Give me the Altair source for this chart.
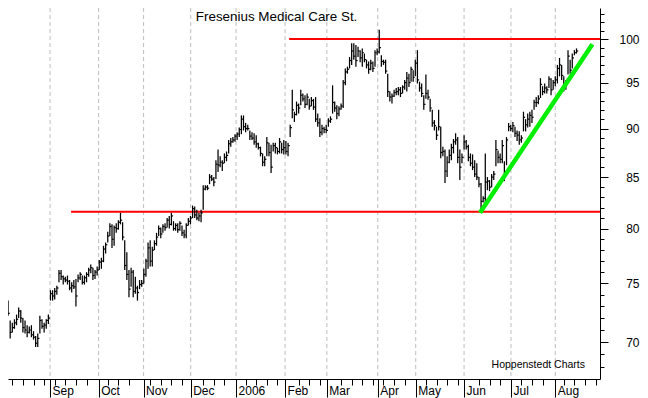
import json
import altair as alt
import pandas as pd

# ---- daily bars (trading-day index 0 = 1 Aug 2005) ----
low = [
    71.1, 71.2, 71.8, 72.2, 70.3, 70.8, 71.1, 71.4, 72.0, 71.6,
    70.8, 70.7, 70.4, 70.7, 70.4, 70.2, 69.6, 69.6, 70.7, 71.1,
    70.8, 71.1, 71.5, 73.5, 73.5, 73.6, 74.0, 75.1, 75.3, 74.9,
    75.1, 74.9, 74.4, 74.2, 74.5, 73.0, 75.1, 75.3, 74.9, 74.9,
    75.1, 75.6, 75.9, 75.3, 75.4, 75.7, 76.2, 76.3, 76.9, 77.7,
    78.7, 79.3, 78.2, 78.4, 79.6, 79.9, 80.4, 78.9, 76.2, 75.3,
    73.8, 74.7, 73.8, 74.1, 73.5, 74.5, 74.7, 75.0, 75.6, 76.3,
    76.5, 76.5, 78.0, 78.4, 79.3, 79.1, 79.6, 79.8, 80.1, 80.0,
    80.3, 79.8, 79.8, 79.6, 79.8, 79.3, 79.1, 79.1, 80.3, 80.4,
    81.0, 81.0, 80.8, 80.7, 80.6, 81.8, 83.7, 83.7, 84.3, 84.6,
    84.1, 84.8, 85.5, 86.0, 85.6, 86.4, 86.6, 87.4, 88.1, 88.5,
    88.6, 88.8, 89.1, 89.4, 89.8, 89.6, 89.8, 88.8, 88.8, 88.3,
    88.0, 87.8, 87.1, 86.1, 86.1, 87.1, 87.1, 85.4, 87.6, 87.4,
    87.3, 87.4, 87.4, 87.3, 87.3, 87.1, 89.1, 91.1, 90.7, 91.4,
    91.6, 92.5, 92.9, 92.2, 92.5, 92.0, 92.4, 92.0, 90.7, 90.2,
    89.1, 89.3, 89.5, 89.5, 90.2, 90.6, 91.6, 91.8, 91.0, 91.3,
    92.0, 92.2, 94.7, 96.0, 96.6, 97.0, 97.6, 96.8, 97.9, 97.3,
    96.8, 97.3, 96.6, 96.0, 96.4, 96.2, 96.8, 98.1, 98.3, 96.8,
    97.0, 96.0, 93.4, 92.9, 92.7, 93.4, 93.6, 93.6, 93.4, 93.8,
    94.2, 94.0, 94.5, 95.1, 95.1, 95.7, 94.9, 94.0, 93.4, 92.0,
    93.2, 93.1, 91.8, 90.2, 89.8, 88.8, 89.8, 86.9, 87.1, 84.4,
    85.0, 86.4, 86.7, 87.4, 88.3, 86.4, 84.7, 86.4, 87.8, 87.8,
    86.6, 86.1, 85.7, 85.0, 84.7, 84.0, 81.8, 82.5, 82.5, 83.7,
    83.6, 84.0, 84.7, 86.1, 86.4, 86.4, 86.4, 84.6, 86.2, 89.7,
    89.7, 89.6, 89.1, 88.7, 88.3, 88.5, 89.7, 89.7, 90.1, 90.2,
    90.6, 92.0, 92.3, 92.6, 93.3, 93.6, 93.8, 93.8, 94.4, 93.6,
    94.2, 94.6, 94.9, 95.7, 95.3, 94.0, 94.2, 95.9, 96.0, 96.6,
    98.1, 98.3,
]
high = [
    72.2, 72.2, 72.9, 73.5, 71.8, 71.6, 71.9, 72.3, 72.9, 72.7,
    72.0, 71.8, 71.4, 71.3, 71.4, 70.9, 70.5, 70.7, 72.2, 71.9,
    71.6, 71.9, 72.3, 74.4, 74.4, 74.6, 74.8, 76.2, 76.2, 75.7,
    75.6, 75.7, 75.3, 75.1, 75.3, 75.4, 75.8, 76.0, 75.7, 75.7,
    76.0, 76.4, 76.7, 76.4, 76.2, 76.5, 77.1, 77.3, 78.4, 78.7,
    79.7, 80.5, 80.4, 80.3, 80.5, 80.8, 81.5, 80.6, 78.9, 77.8,
    76.2, 76.4, 76.2, 75.6, 74.8, 75.3, 75.3, 76.3, 77.2, 78.7,
    78.9, 78.3, 78.9, 79.6, 80.3, 80.1, 80.4, 80.5, 81.0, 81.2,
    81.5, 80.7, 80.5, 80.5, 80.7, 80.3, 79.9, 80.5, 81.0, 81.2,
    82.2, 82.1, 81.8, 81.5, 81.8, 84.2, 84.2, 84.2, 85.3, 85.2,
    85.0, 86.7, 87.8, 87.1, 86.7, 87.4, 87.6, 88.8, 89.0, 89.1,
    89.4, 89.6, 90.1, 91.4, 91.4, 90.6, 90.4, 89.8, 89.6, 89.5,
    89.3, 88.5, 88.1, 87.4, 87.1, 89.1, 88.5, 88.3, 88.5, 88.5,
    88.0, 89.0, 88.5, 88.8, 88.7, 88.5, 90.4, 94.2, 91.8, 92.9,
    92.7, 94.2, 93.8, 93.6, 93.8, 93.2, 93.4, 93.2, 93.4, 91.6,
    91.1, 90.4, 90.2, 90.4, 91.1, 91.3, 94.7, 92.9, 92.5, 92.4,
    92.7, 95.3, 96.6, 96.8, 97.9, 99.5, 99.5, 99.3, 99.1, 98.7,
    98.9, 98.3, 97.6, 97.4, 97.6, 97.4, 98.7, 98.9, 101.1, 98.1,
    97.6, 97.6, 96.0, 94.0, 93.8, 94.2, 94.4, 94.5, 94.5, 94.7,
    95.3, 96.2, 96.0, 96.8, 96.4, 97.6, 98.7, 95.1, 94.9, 93.6,
    95.9, 94.2, 93.2, 92.0, 90.9, 90.2, 92.0, 90.2, 88.1, 87.8,
    87.1, 87.8, 88.4, 88.9, 89.5, 89.1, 87.8, 87.4, 89.3, 88.8,
    88.3, 87.4, 87.3, 86.7, 86.4, 85.0, 84.4, 83.1, 87.4, 85.0,
    84.7, 85.3, 85.6, 88.8, 87.7, 87.4, 88.8, 86.6, 89.1, 90.6,
    90.4, 90.7, 90.2, 89.8, 89.7, 89.3, 91.8, 91.0, 91.6, 91.8,
    92.0, 93.1, 93.4, 93.6, 95.5, 94.6, 94.9, 94.6, 95.7, 95.5,
    95.3, 95.7, 97.0, 97.8, 97.0, 95.7, 95.3, 98.7, 97.6, 98.3,
    98.7, 98.9,
]
close = [
    71.6, 71.4, 72.5, 72.4, 70.8, 71.2, 71.6, 71.9, 72.6, 72.0,
    71.2, 71.0, 70.8, 71.0, 70.6, 70.4, 69.9, 70.3, 71.8, 71.3,
    71.4, 71.8, 72.0, 74.1, 73.9, 74.3, 74.6, 75.9, 75.6, 75.4,
    75.3, 75.2, 74.6, 74.8, 74.7, 73.9, 75.5, 75.8, 75.1, 75.5,
    75.8, 76.2, 76.4, 75.7, 76.0, 76.2, 76.9, 77.0, 78.1, 78.5,
    79.3, 80.2, 79.0, 80.1, 80.0, 80.6, 80.8, 79.2, 76.6, 75.8,
    74.5, 76.0, 74.3, 74.6, 74.2, 74.9, 75.0, 75.8, 77.0, 78.2,
    77.0, 78.0, 78.6, 79.2, 80.0, 79.5, 80.2, 80.1, 80.8, 80.4,
    81.2, 80.0, 80.3, 79.9, 80.5, 79.6, 79.4, 80.3, 80.7, 81.0,
    81.9, 81.3, 81.0, 81.2, 81.5, 83.8, 84.0, 83.9, 85.0, 84.8,
    84.5, 86.3, 86.2, 86.5, 86.4, 87.0, 87.2, 88.4, 88.6, 88.8,
    89.2, 89.4, 89.9, 91.0, 90.2, 90.0, 90.0, 89.2, 89.0, 88.6,
    88.4, 88.0, 87.4, 86.5, 86.8, 88.5, 87.5, 86.0, 88.2, 88.0,
    87.6, 88.6, 87.8, 88.0, 87.6, 88.2, 90.1, 92.0, 91.5, 92.5,
    92.2, 93.6, 93.2, 92.6, 93.4, 92.4, 93.0, 92.3, 91.0, 90.6,
    89.6, 90.0, 89.9, 89.8, 90.8, 91.0, 92.8, 92.2, 91.6, 92.1,
    92.4, 95.0, 96.2, 96.5, 97.5, 98.6, 98.0, 97.5, 98.6, 97.8,
    98.4, 97.6, 97.0, 96.5, 97.2, 96.6, 98.4, 98.5, 99.0, 97.4,
    97.3, 96.3, 94.0, 93.4, 93.5, 93.9, 94.0, 94.2, 93.8, 94.5,
    95.0, 95.5, 95.0, 96.5, 95.6, 97.2, 95.3, 94.4, 93.8, 92.6,
    93.8, 93.4, 92.2, 90.6, 90.3, 89.3, 90.2, 87.5, 87.6, 85.6,
    86.5, 87.2, 88.0, 88.6, 88.8, 87.0, 86.0, 87.0, 88.6, 88.1,
    87.0, 86.4, 86.0, 85.3, 85.0, 84.3, 82.6, 82.9, 84.5, 84.6,
    84.0, 85.0, 85.3, 87.8, 87.0, 86.8, 88.2, 85.2, 88.8, 90.2,
    90.0, 90.3, 89.5, 89.3, 88.8, 89.0, 91.2, 90.4, 91.0, 91.4,
    91.2, 92.8, 92.8, 93.2, 94.8, 94.0, 94.4, 94.2, 95.4, 94.2,
    95.0, 95.3, 96.6, 97.0, 95.8, 94.6, 95.0, 98.0, 96.4, 97.8,
    98.4, 98.6,
]
assert len(low) == len(high) == len(close)

# ---- axis ticks ----
month_pos = [22.8, 45.7, 66.9, 89.1, 110.5, 133.6, 153.3, 177.3, 195.2, 218.0, 240.1, 261.0]
month_lab = ["Sep", "Oct", "Nov", "Dec", "2006", "Feb", "Mar", "Apr", "May", "Jun", "Jul", "Aug"]
grid_pos = [0.0] + month_pos
week_pos = [5, 10, 15, 20, 25, 30, 35, 40, 50, 55, 60, 70, 75, 80, 85, 95, 100, 105,
            115, 120, 125, 130, 140, 145, 150, 160, 165, 170, 175, 180, 185, 190,
            200, 205, 210, 215, 225, 230, 235, 245, 250, 255, 265, 270, 275, 280]
price_ticks = list(range(67, 105))

# ---- annotation lines ----
resist_level = 100.0
resist_from = 135.5
support_level = 81.6
support_from = 32.7
trend_x = [225.5, 278.5]
trend_y = [81.5, 99.4]

title_text = "Fresenius Medical Care St."
source_text = "Hoppenstedt Charts"

X_DOMAIN = [2.97, 282.08]
Y_DOMAIN = [67.02, 103.72]

bars = pd.DataFrame({"i": list(range(len(low))), "low": low, "high": high, "close": close})
grid_df = pd.DataFrame({"pos": grid_pos})
levels = pd.DataFrame({"x0": [resist_from, support_from],
                       "x1": [X_DOMAIN[1] + 1, X_DOMAIN[1] + 1],
                       "lvl": [resist_level, support_level]})
trend = pd.DataFrame({"tx": trend_x, "ty": trend_y})
texts = pd.DataFrame({"tx": [129.6], "ty": [102.14], "t": [title_text]})
src = pd.DataFrame({"tx": [275.0], "ty": [67.9], "t": [source_text]})

mp = json.dumps(month_pos)
ml = json.dumps(month_lab)
x_test = f"indexof({mp}, datum.value) >= 0"
x_axis = alt.Axis(
    values=month_pos + week_pos,
    labelExpr=f"indexof({mp}, datum.value) >= 0 ? {ml}[indexof({mp}, datum.value)] : ''",
    tickSize={"condition": {"test": x_test, "value": 18}, "value": 6},
    labelAlign="left", labelBaseline="alphabetic", labelPadding=-3, labelOffset=2,
    labelFontSize=12, labelColor="black", tickColor="black", domainColor="black",
    grid=False, title=None, labelOverlap=False, labelBound=False, labelFlush=False,
)
y_axis = alt.Axis(
    orient="right", values=price_ticks, format="d",
    labelExpr="datum.value % 5 === 0 ? datum.label : ''",
    tickSize={"condition": {"test": "datum.value % 5 === 0", "value": 8}, "value": 4},
    labelAlign="right", labelBaseline="middle", labelPadding=31,
    labelFontSize=12, labelColor="black", tickColor="black", domainColor="black",
    grid=False, title=None, labelOverlap=False, labelBound=False, labelFlush=False,
)
xs = alt.Scale(domain=X_DOMAIN, nice=False, zero=False)
ys = alt.Scale(type="log", domain=Y_DOMAIN, nice=False)

grid = alt.Chart(grid_df).mark_rule(color="#bdbdbd", strokeDash=[4, 3], strokeWidth=1, clip=True).encode(
    x=alt.X("pos:Q", scale=xs, axis=x_axis)
)
lines = alt.Chart(levels).mark_rule(color="#ff0000", strokeWidth=2, clip=True).encode(
    x=alt.X("x0:Q", scale=xs, axis=x_axis), x2="x1:Q", y=alt.Y("lvl:Q", scale=ys, axis=y_axis)
)
hl = alt.Chart(bars).mark_rule(color="black", strokeWidth=1.25, clip=True).encode(
    x=alt.X("i:Q", scale=xs, axis=x_axis), y=alt.Y("low:Q", scale=ys, axis=y_axis), y2="high:Q"
)
cl = alt.Chart(bars).transform_calculate(i2="datum.i + 0.8").mark_rule(
    color="black", strokeWidth=1.2, clip=True
).encode(x=alt.X("i:Q", scale=xs, axis=x_axis), x2="i2:Q", y=alt.Y("close:Q", scale=ys, axis=y_axis))
tr = alt.Chart(trend).mark_line(color="#00ee00", strokeWidth=4.5, clip=True).encode(
    x=alt.X("tx:Q", scale=xs, axis=x_axis), y=alt.Y("ty:Q", scale=ys, axis=y_axis)
)
ttl = alt.Chart(texts).mark_text(font="Liberation Sans", fontSize=13.4, color="black",
                                 align="center", baseline="alphabetic").encode(
    x=alt.X("tx:Q", scale=xs, axis=x_axis), y=alt.Y("ty:Q", scale=ys, axis=y_axis), text="t:N"
)
srct = alt.Chart(src).mark_text(font="Liberation Sans", fontSize=10.5, color="black",
                                align="right", baseline="alphabetic").encode(
    x=alt.X("tx:Q", scale=xs, axis=x_axis), y=alt.Y("ty:Q", scale=ys, axis=y_axis), text="t:N"
)

chart = alt.layer(grid, lines, hl, cl, tr, ttl, srct).properties(
    width=592, height=371,
    padding={"left": 0, "top": 0, "right": 40, "bottom": 19},
    autosize=alt.AutoSizeParams(type="none"),
    background="white",
).configure_view(strokeWidth=0).configure_axis(labelFont="Liberation Sans")

chart.save("out.html", embed_options={"renderer": "svg", "actions": False})
